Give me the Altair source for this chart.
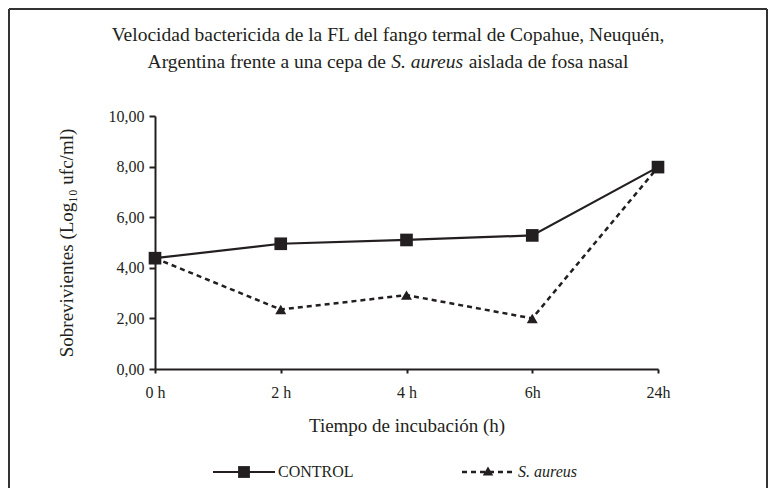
import altair as alt
import pandas as pd

# ---- data ----
times = ["0 h", "2 h", "4 h", "6h", "24h"]
control = [4.38, 4.95, 5.10, 5.28, 7.98]
aureus = [4.38, 2.35, 2.92, 2.00, 7.98]
series = ["CONTROL", "S. aureus"]

title_line1 = "Velocidad bactericida de la FL del fango termal de Copahue, Neuquén,"
title_line2 = ["Argentina frente a una cepa de", "S. aureus", "aislada de fosa nasal"]
y_title = "Sobrevivientes (Log\u2081\u2080 ufc/ml)"
x_title = "Tiempo de incubación (h)"

df = pd.DataFrame({
    "t": times * 2,
    "v": control + aureus,
    "s": [series[0]] * len(times) + [series[1]] * len(times),
})

FONT = "Liberation Serif"
INK = "#231f20"
W, H = 503, 253
TF = 19.5

xenc = alt.X("t:O", sort=times, scale=alt.Scale(type="point", padding=0),
             axis=alt.Axis(title=x_title, labelAngle=0, tickSize=4, tickWidth=2,
                           tickColor=INK, domainColor=INK, domainWidth=2,
                           labelPadding=24, labelBaseline="alphabetic",
                           labelFontSize=16, labelColor=INK,
                           titleFontSize=19, titleFontWeight="normal", titleColor=INK,
                           titleX=W / 2, titleY=56, titleBaseline="middle",
                           titleAlign="center"))
yenc = alt.Y("v:Q", scale=alt.Scale(domain=[0, 10], nice=False),
             axis=alt.Axis(title=y_title, values=[0, 2, 4, 6, 8, 10],
                           labelExpr="replace(format(datum.value, '.2f'), '.', ',')",
                           tickSize=6, tickWidth=2, tickColor=INK,
                           domainColor=INK, domainWidth=2, grid=False,
                           labelPadding=5, labelFontSize=16, labelColor=INK,
                           titleFontSize=19, titleFontWeight="normal", titleColor=INK,
                           titleX=-89, titleY=H / 2, titleAngle=270,
                           titleBaseline="middle", titleAlign="center"))

aur = df[df.s == series[1]]
con = df[df.s == series[0]]

aur_line = alt.Chart(aur).mark_line(color=INK, strokeWidth=2.5, strokeDash=[5, 4]).encode(x=xenc, y=yenc)
aur_pts = alt.Chart(aur).mark_point(shape="triangle-up", filled=True, color=INK, size=120, opacity=1).encode(x=xenc, y=yenc)
con_line = alt.Chart(con).mark_line(color=INK, strokeWidth=2.2).encode(x=xenc, y=yenc)
con_pts = alt.Chart(con).mark_point(shape="square", filled=True, color=INK, size=160, opacity=1).encode(x=xenc, y=yenc)

one = pd.DataFrame({"k": [0]})

# title (line 2 has an italic species name); widths from Times metrics
cx = 233
w_left, w_ital, w_right, w_sp = 12.245 * TF, 3.722 * TF, 8.192 * TF, 0.25 * TF
start = cx - (w_left + w_ital + w_right + 2 * w_sp) / 2
t1 = alt.Chart(pd.DataFrame({"txt": [title_line1]})).mark_text(
    font=FONT, fontSize=TF, color=INK, align="center", baseline="middle"
).encode(x=alt.value(cx), y=alt.value(-81), text="txt:N")
t2a = alt.Chart(pd.DataFrame({"txt": [title_line2[0]]})).mark_text(
    font=FONT, fontSize=TF, color=INK, align="left", baseline="middle"
).encode(x=alt.value(start), y=alt.value(-54), text="txt:N")
t2b = alt.Chart(pd.DataFrame({"txt": [title_line2[1]]})).mark_text(
    font=FONT, fontSize=TF, color=INK, align="left", baseline="middle", fontStyle="italic"
).encode(x=alt.value(start + w_left + w_sp), y=alt.value(-54), text="txt:N")
t2c = alt.Chart(pd.DataFrame({"txt": [title_line2[2]]})).mark_text(
    font=FONT, fontSize=TF, color=INK, align="left", baseline="middle"
).encode(x=alt.value(start + w_left + w_ital + 2 * w_sp), y=alt.value(-54), text="txt:N")

# frame (top, left, right; bottom edge is cut off in the reference)
frame_top = alt.Chart(one).mark_rule(color="#333333", strokeWidth=2).encode(
    x=alt.value(-146), x2=alt.value(612), y=alt.value(-107))
frame_left = alt.Chart(one).mark_rule(color="#333333", strokeWidth=2).encode(
    x=alt.value(-146), y=alt.value(-107), y2=alt.value(372))
frame_right = alt.Chart(one).mark_rule(color="#333333", strokeWidth=2).encode(
    x=alt.value(612), y=alt.value(-107), y2=alt.value(372))

# manual legend
LY = 356
leg_c_line = alt.Chart(one).mark_rule(color=INK, strokeWidth=2.2).encode(
    x=alt.value(58), x2=alt.value(120), y=alt.value(LY))
leg_c_pt = alt.Chart(one).mark_point(shape="square", filled=True, color=INK, size=140, opacity=1).encode(
    x=alt.value(89), y=alt.value(LY))
leg_c_txt = alt.Chart(pd.DataFrame({"txt": [series[0]]})).mark_text(
    font=FONT, fontSize=16, color=INK, align="left", baseline="middle"
).encode(x=alt.value(123), y=alt.value(LY), text="txt:N")
leg_a_line = alt.Chart(one).mark_rule(color=INK, strokeWidth=2.5, strokeDash=[5, 4]).encode(
    x=alt.value(307), x2=alt.value(360), y=alt.value(LY))
leg_a_pt = alt.Chart(one).mark_point(shape="triangle-up", filled=True, color=INK, size=110, opacity=1).encode(
    x=alt.value(333), y=alt.value(LY - 1))
leg_a_txt = alt.Chart(pd.DataFrame({"txt": [series[1]]})).mark_text(
    font=FONT, fontSize=16, color=INK, align="left", baseline="middle", fontStyle="italic"
).encode(x=alt.value(363), y=alt.value(LY), text="txt:N")

chart = alt.layer(
    aur_line, aur_pts, con_line, con_pts,
    t1, t2a, t2b, t2c, frame_top, frame_left, frame_right,
    leg_c_line, leg_c_pt, leg_c_txt, leg_a_line, leg_a_pt, leg_a_txt,
).properties(
    width=W, height=H,
    autosize=alt.AutoSizeParams(type="none"),
    padding={"left": 147, "top": 108, "right": 110, "bottom": 119},
    background="white",
).configure_view(stroke=None).configure_axis(
    labelFont=FONT, titleFont=FONT
)

chart.save("out.html", embed_options={"renderer": "svg", "actions": False})
